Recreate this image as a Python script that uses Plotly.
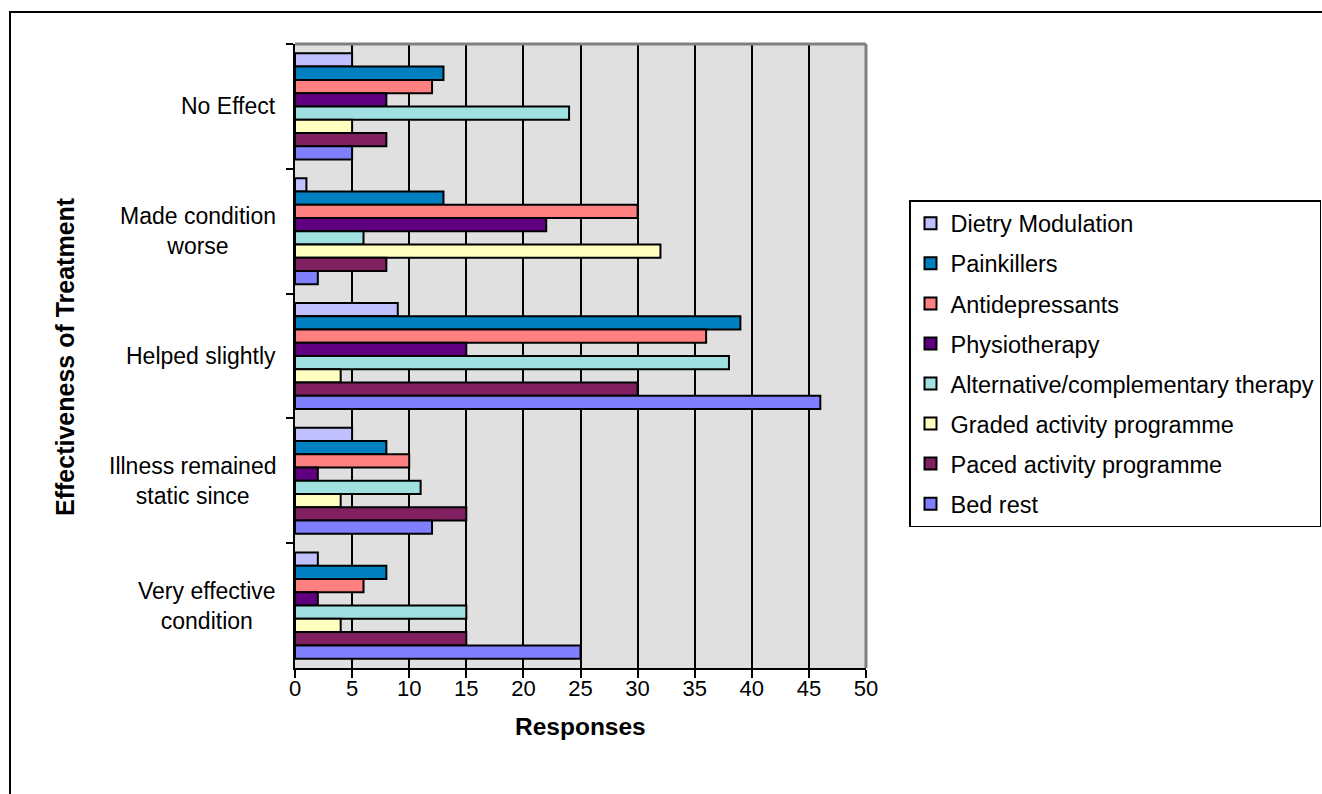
import plotly.graph_objects as go

# Response categories, top to bottom
categories = [
    "No Effect",
    "Made condition worse",
    "Helped slightly",
    "Illness remained static since",
    "Very effective condition",
]
category_labels = [
    "No Effect",
    "Made condition<br>worse",
    "Helped slightly",
    "Illness remained<br>static since",
    "Very effective<br>condition",
]

# Responses per treatment, in category order
dietry_modulation = [5, 1, 9, 5, 2]
painkillers = [13, 13, 39, 8, 8]
antidepressants = [12, 30, 36, 10, 6]
physiotherapy = [8, 22, 15, 2, 2]
alternative_therapy = [24, 6, 38, 11, 15]
graded_activity = [5, 32, 4, 4, 4]
paced_activity = [8, 8, 30, 15, 15]
bed_rest = [5, 2, 46, 12, 25]

series = [
    ("Dietry Modulation", dietry_modulation, "#C0C0FF"),
    ("Painkillers", painkillers, "#0080C0"),
    ("Antidepressants", antidepressants, "#FF8080"),
    ("Physiotherapy", physiotherapy, "#600080"),
    ("Alternative/complementary therapy", alternative_therapy, "#A0E0E0"),
    ("Graded activity programme", graded_activity, "#FFFFC0"),
    ("Paced activity programme", paced_activity, "#802060"),
    ("Bed rest", bed_rest, "#8080FF"),
]

x_ticks = list(range(0, 51, 5))

FONT = "Liberation Sans, Arial, sans-serif"
FS_TICK = 22
FS_CAT = 23
FS_LEGEND = 23.5
FS_YTITLE = 25
FS_XTITLE = 24.5

fig = go.Figure()
for name, values, color in series:
    fig.add_trace(go.Bar(
        y=categories,
        x=values,
        name=name,
        orientation="h",
        legendgroup=name,
        marker=dict(color=color, line=dict(color="black", width=2)),
    ))

# Plot area geometry in pixels
W, H = 1322, 794
L, R, T, B = 295, 456, 44, 126
pw, ph = W - L - R, H - T - B


def px_x(p):
    return (p - L) / pw


def px_y(p):
    return (H - B - p) / ph


annotations = []
for cat, lab in zip(categories, category_labels):
    annotations.append(dict(
        x=px_x(278), xref="paper", y=cat, yref="y",
        text=lab, showarrow=False, xanchor="right", yanchor="middle",
        align="center", font=dict(family=FONT, size=FS_CAT, color="black"),
    ))
annotations.append(dict(
    x=px_x(65), xref="paper", y=px_y(357), yref="paper",
    text="<b>Effectiveness of Treatment</b>", textangle=-90,
    showarrow=False, xanchor="center", yanchor="middle",
    font=dict(family=FONT, size=FS_YTITLE, color="black"),
))
annotations.append(dict(
    x=px_x(580), xref="paper", y=px_y(726), yref="paper",
    text="<b>Responses</b>", showarrow=False,
    xanchor="center", yanchor="middle",
    font=dict(family=FONT, size=FS_XTITLE, color="black"),
))

shapes = [
    # top and right frame of the plot area
    dict(type="line", xref="x domain", yref="y domain", x0=0, x1=1, y0=1, y1=1,
         line=dict(color="#808080", width=3), layer="above"),
    dict(type="line", xref="x domain", yref="y domain", x0=1, x1=1, y0=0, y1=1,
         line=dict(color="#808080", width=3), layer="above"),
    # chart border
    dict(type="rect", xref="paper", yref="paper",
         x0=px_x(10), x1=px_x(1340), y0=px_y(12), y1=px_y(820),
         line=dict(color="black", width=2), fillcolor="rgba(0,0,0,0)"),
]

fig.update_layout(
    width=W, height=H,
    margin=dict(l=L, r=R, t=T, b=B, autoexpand=False),
    paper_bgcolor="white",
    plot_bgcolor="#E0E0E0",
    barmode="group",
    bargap=0.15,
    bargroupgap=0,
    font=dict(family=FONT, size=FS_TICK, color="black"),
    showlegend=True,
    legend=dict(
        x=px_x(909), y=px_y(200), xanchor="left", yanchor="top",
        bgcolor="white", bordercolor="black", borderwidth=1.5,
        traceorder="grouped", tracegroupgap=6.5,
        font=dict(family=FONT, size=FS_LEGEND, color="black"),
        itemwidth=30,
    ),
    xaxis=dict(
        range=[0, 50], tickvals=x_ticks, ticktext=[str(v) for v in x_ticks],
        showgrid=True, gridcolor="black", gridwidth=2,
        showline=True, linecolor="black", linewidth=2,
        ticks="outside", ticklen=8, tickwidth=2, tickcolor="black",
        ticklabelstandoff=-8,
        zeroline=False, fixedrange=True,
        tickfont=dict(family=FONT, size=FS_TICK, color="black"),
    ),
    yaxis=dict(
        type="category", categoryorder="array", categoryarray=categories,
        autorange="reversed",
        showticklabels=False,
        tickson="boundaries", ticks="outside", ticklen=7, tickwidth=2,
        tickcolor="black",
        showline=True, linecolor="black", linewidth=2,
        showgrid=False, zeroline=False, fixedrange=True,
    ),
    annotations=annotations,
    shapes=shapes,
)

fig.write_html("out.html")
